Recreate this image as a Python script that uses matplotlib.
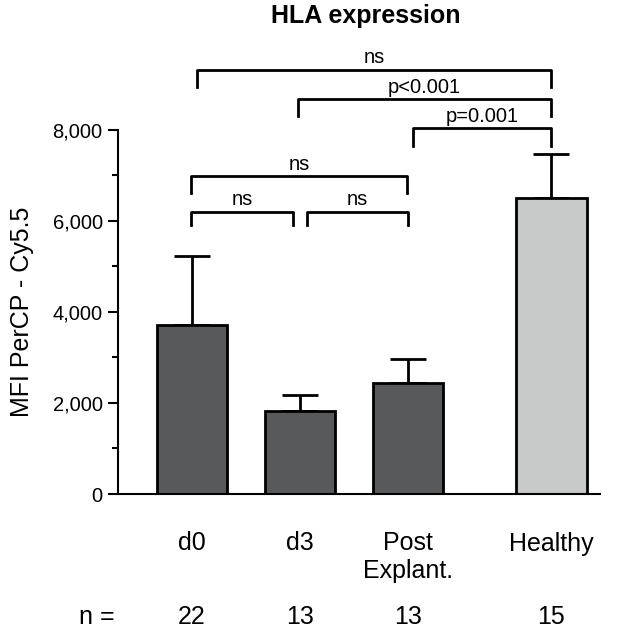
import numpy as np
import matplotlib
matplotlib.use('Agg')
from matplotlib import pyplot as plt
from matplotlib.ticker import FuncFormatter, FixedLocator

# Data
groups = ['d0', 'd3', 'Post\nExplant.', 'Healthy']
n_labels = ['22', '13', '13', '15']
means = [3720, 1820, 2430, 6500]
sem_up = [1510, 360, 540, 980]
bar_cols = ['#58595b', '#58595b', '#58595b', '#c8c9c9']
xpos = [0, 1, 2, 3.33]

# comparison brackets: (x1, x2, height, leg drop, label)
brackets = [
    (0.05, 3.33, 9320, 380, 'ns'),
    (0.98, 3.33, 8680, 380, 'p<0.001'),
    (2.05, 3.33, 8040, 400, 'p=0.001'),
    (-0.01, 1.99, 6990, 380, 'ns'),
    (-0.01, 0.94, 6200, 290, 'ns'),
    (1.07, 2.0, 6200, 290, 'ns'),
]

plt.rcParams['font.family'] = ['Liberation Sans', 'DejaVu Sans']

fig = plt.figure(figsize=(6.3, 6.37), dpi=100)
ax = fig.add_axes([118/630, 1-494/637, 482/630, (494-57)/637])

ax.bar(xpos, means, width=0.65, color=bar_cols, edgecolor='black', linewidth=2, zorder=2)
ax.errorbar(xpos, means, yerr=[np.zeros(len(means)), sem_up], fmt='none',
            ecolor='black', elinewidth=2, capsize=13, capthick=2, zorder=1)

for x1, x2, h, d, lab in brackets:
    ax.plot([x1, x1, x2, x2], [h - d, h, h, h - d], color='black', lw=2, clip_on=False)
    ax.text((x1 + x2) / 2, h + 50, lab, ha='center', va='bottom', fontsize=14.5)

ax.set_xlim(-0.685, 3.78)
ax.set_ylim(0, 9600)
for s in ['top', 'right']:
    ax.spines[s].set_visible(False)
ax.spines['left'].set_bounds(0, 8000)
ax.spines['left'].set_linewidth(1.5)
ax.spines['bottom'].set_linewidth(1.5)

ax.set_yticks([0, 2000, 4000, 6000, 8000])
ax.yaxis.set_minor_locator(FixedLocator([1000, 3000, 5000, 7000]))
ax.yaxis.set_major_formatter(FuncFormatter(lambda v, p: '{:,.0f}'.format(v)))
ax.tick_params(axis='y', which='major', length=7, width=1.5, labelsize=14.5, pad=4)
ax.tick_params(axis='y', which='minor', length=4, width=1.5)

ax.set_xticks(xpos)
ax.set_xticklabels(groups, fontsize=18, linespacing=1.2)
ax.tick_params(axis='x', length=0, pad=27)

tr = ax.get_xaxis_transform()
ax.text(-0.88, -0.282, 'n =', transform=tr, ha='center', va='center', fontsize=18)
for x, n in zip(xpos, n_labels):
    ax.text(x, -0.282, n, transform=tr, ha='center', va='center', fontsize=18)

fig.text(22/630, 1-312/637, 'MFI PerCP - Cy5.5', rotation=90, ha='center', va='center', fontsize=18)
fig.text(366/630, 1-16/637, 'HLA expression', ha='center', va='center', fontsize=18, fontweight='bold')

plt.savefig('out.png', dpi=100)
